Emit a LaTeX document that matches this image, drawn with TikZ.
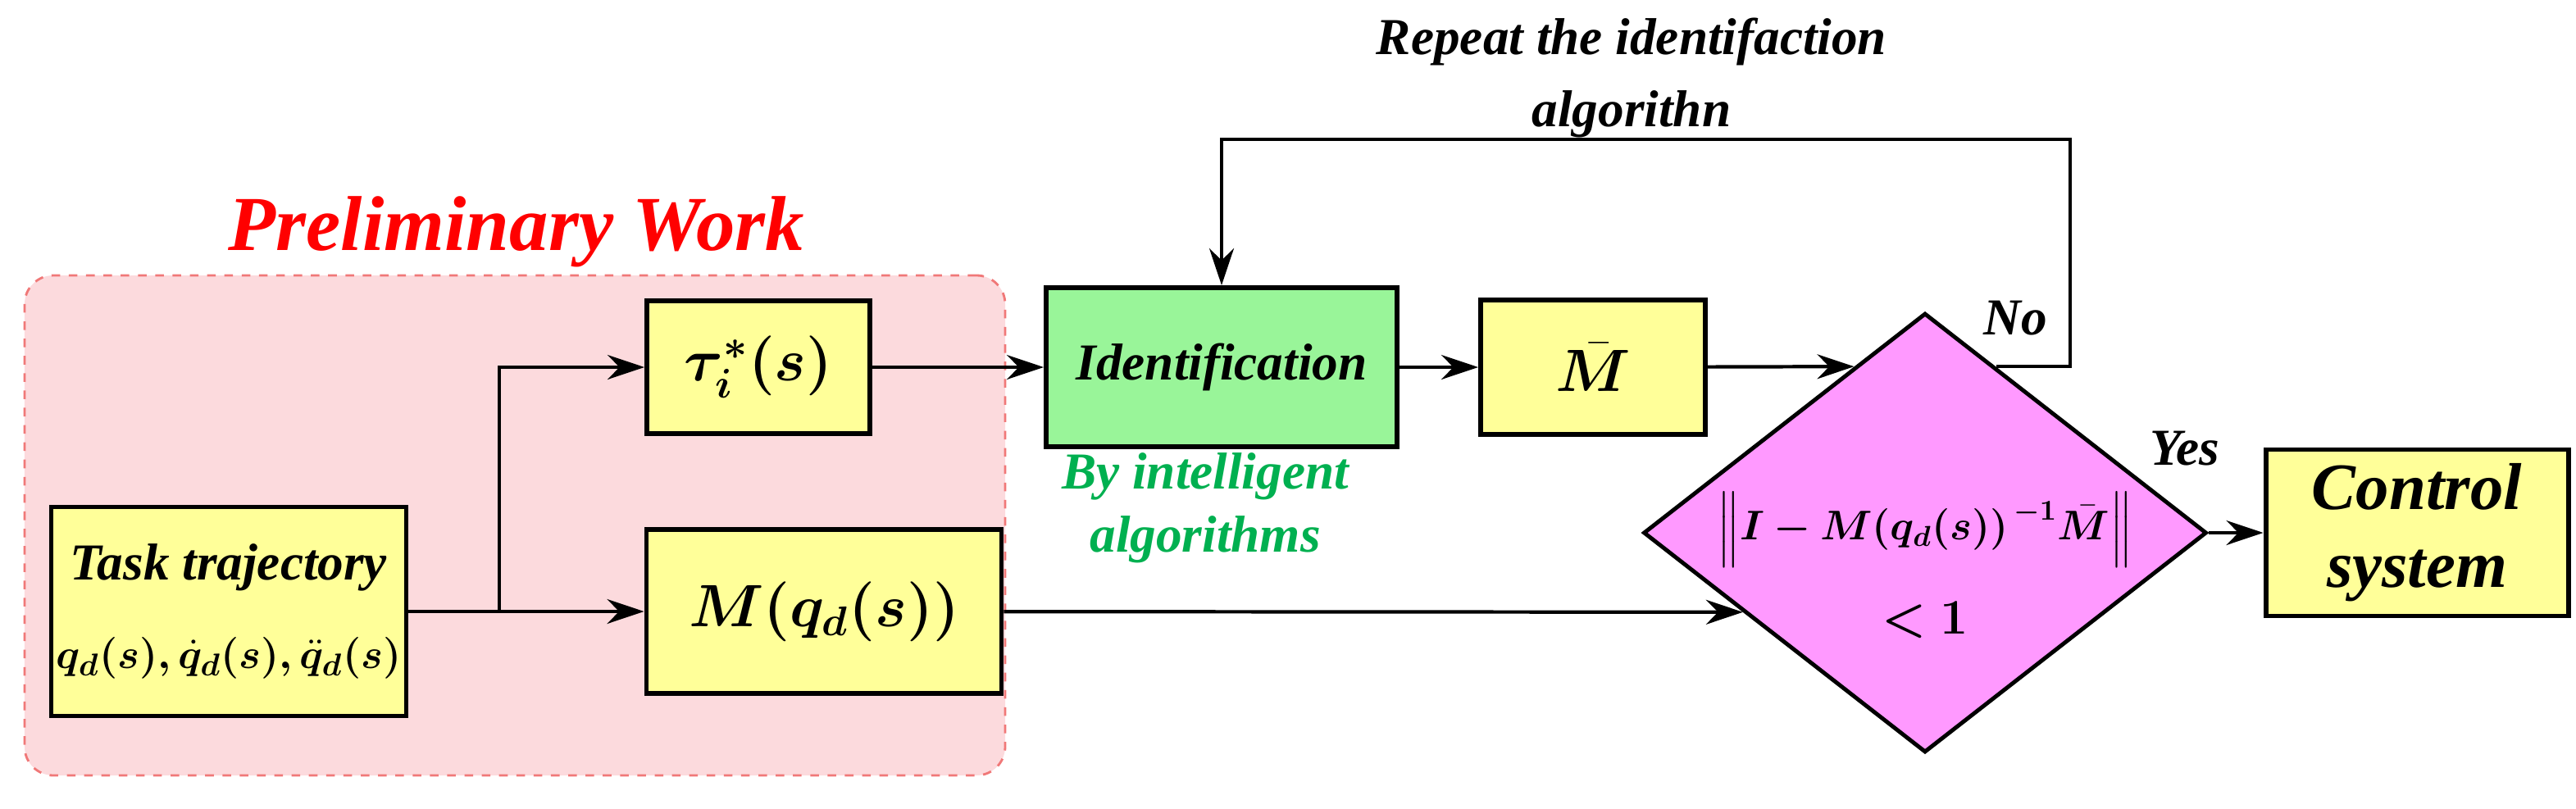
\documentclass[tikz,border=0pt]{standalone}
\usepackage{tikz}
\usetikzlibrary{shapes.geometric,arrows.meta,calc}
\usepackage{amsmath}
\usepackage{amssymb}
\usepackage{bm}
\usepackage{fontspec}
\setmainfont{Liberation Serif}
\definecolor{boxyellow}{HTML}{FFFF99}
\definecolor{boxgreen}{HTML}{99F599}
\definecolor{decpink}{HTML}{FF99FF}
\definecolor{workpink}{HTML}{FCDADD}
\definecolor{workedge}{HTML}{F07878}
\definecolor{txtgreen}{HTML}{00B050}
\begin{document}
\begin{tikzpicture}[
    blk/.style={draw, line width=1.7pt, fill=boxyellow, inner sep=0pt,
      font=\fontsize{18}{22}\selectfont\bfseries\itshape},
    flow/.style={line width=1.2pt, -{Stealth[length=0.45cm,width=0.3cm]}},
    lbl/.style={font=\fontsize{18}{22}\selectfont\bfseries\itshape}
  ]
    \useasboundingbox (0,0) rectangle (31.42,9.86);
    \node[draw=workedge, dashed, line width=0.8pt, fill=workpink, rounded corners=0.35cm,
      minimum width=11.96cm, minimum height=6.10cm] (work) at (6.28,3.45) {};
    \node[text=red, font=\fontsize{27}{31}\selectfont\bfseries\itshape] (worktitle) at (6.30,7.03) {Preliminary Work};

    \node[blk, minimum width=4.33cm, minimum height=2.55cm, align=center] (task) at (2.79,2.40)
      {Task trajectory\\[0.3cm] \fontsize{15.5}{18}\selectfont$\bm{q_d(s),\dot q_d(s),\ddot q_d(s)}$};
    \node[blk, minimum width=2.72cm, minimum height=1.62cm] (tau) at (9.25,5.38)
      {\fontsize{22}{26}\selectfont$\bm{\tau_i^{*}(s)}$};
    \node[blk, minimum width=4.33cm, minimum height=2.0cm] (mq) at (10.05,2.40)
      {\fontsize{22}{26}\selectfont$\bm{M(q_d(s))}$};
    \node[blk, fill=boxgreen, minimum width=4.28cm, minimum height=1.94cm] (ident) at (14.90,5.38)
      {Identification};
    \node[txtgreen, lbl, align=center] (intel) at (14.70,3.66) {By intelligent\\algorithms};
    \node[blk, minimum width=2.74cm, minimum height=1.64cm] (mbar) at (19.43,5.38)
      {\fontsize{20}{24}\selectfont$\bm{\bar M}$};
    \node[draw, line width=1.4pt, fill=decpink, diamond, inner sep=0pt,
      minimum width=6.87cm, minimum height=5.36cm] (dec) at (23.48,3.36) {};
    \node[lbl, font=\fontsize{14.5}{18}\selectfont] (norm) at (23.48,3.40) {$\bm{\left\| I-M(q_d(s))^{\,-1}\bar M\right\|}$};
    \node[lbl, font=\fontsize{18}{22}\selectfont] (less) at (23.48,2.29) {$\bm{<1}$};
    \node[blk, minimum width=3.69cm, minimum height=2.03cm, align=center,
      font=\fontsize{23}{27}\selectfont\bfseries\itshape] (ctrl) at (29.48,3.36) {Control\\system};

    \node[lbl, align=center] (repeat) at (19.90,8.91) {Repeat the identifaction\\[0.1cm]algorithn};
    \node[lbl] (no) at (24.58,5.98) {No};
    \node[lbl] (yes) at (26.65,4.39) {Yes};

    \coordinate (br) at (6.09,2.40);
    \coordinate (fb) at (25.25,8.16);
    \coordinate (din) at ($(dec.north)!0.25!(dec.west)$);
    \coordinate (dout) at ($(dec.north)!0.25!(dec.east)$);
    \coordinate (dlow) at ($(dec.west)!0.358!(dec.south)$);

    \draw[flow] (task) -- (mq);
    \draw[flow] (br) |- (tau);
    \draw[flow] (tau) -- (ident);
    \draw[flow] (ident) -- (mbar);
    \draw[flow] (mbar) -- (din);
    \draw[flow] (mq) -- (dlow);
    \draw[flow] (dec.east) -- (ctrl);
    \draw[flow] (dout) -- (dout -| fb) -- (fb) -| (ident.north);
  \end{tikzpicture}
\end{document}
